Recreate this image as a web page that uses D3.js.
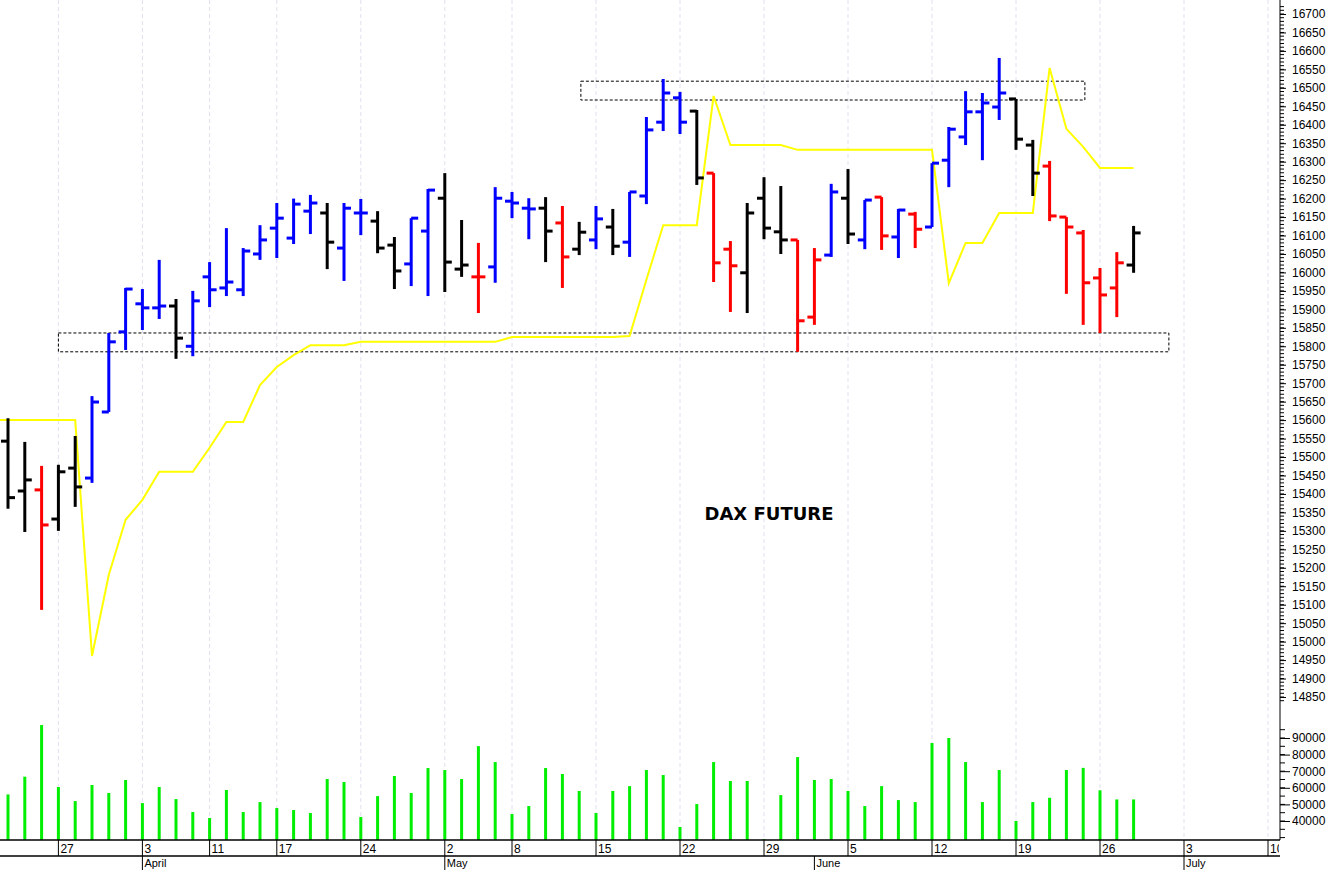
<!DOCTYPE html>
<html>
<head>
<meta charset="utf-8">
<script src="https://cdn.jsdelivr.net/npm/d3@7"></script>
<style>
  body { margin: 0; background: #fff; }
  svg { display: block; font-family: "Liberation Sans", Arial, sans-serif; }
</style>
</head>
<body>
<div id="container"></div>
<script>
const WIDTH = 1328;
const HEIGHT = 870;
const PLOT_RIGHT = 1280;
const BASE = 840;

// trading day index 0 = 22 March
const open = [15543,15408,15411,15332,15470,15443,15622,15839,15915,15904,15909,15800,15988,15958,15953,16050,16120,16093,16166,16161,
  16066,16161,16139,16074,16023,16112,16201,16009,15988,16015,16193,16174,16174,16134,16063,16088,16123,16082,16207,16407,
  16473,16437,16269,16063,15999,16201,16110,16088,15879,16047,16201,16088,16204,16096,16158,16123,16304,16367,16435,16448,
  16470,16345,16288,16150,16107,15985,15958,16020];
const high = [15605,15541,15476,15479,15557,15665,15836,15958,15955,16034,15928,15950,16028,16120,16066,16128,16188,16200,16210,16188,
  16188,16199,16166,16096,16147,16226,16269,16142,16080,16231,16218,16201,16204,16180,16137,16180,16172,16218,16421,16524,
  16489,16440,16269,16085,16188,16258,16234,16088,16066,16240,16280,16196,16204,16172,16164,16296,16394,16491,16486,16581,
  16470,16359,16302,16150,16115,16012,16055,16126];
const low = [15360,15297,15086,15300,15365,15430,15622,15790,15844,15874,15766,15773,15906,15936,15936,16034,16039,16077,16104,16009,
  15977,16101,16052,15955,15963,15936,15947,15988,15890,15972,16147,16090,16028,15958,16047,16063,16047,16042,16185,16383,
  16375,16237,15974,15893,15890,16090,16050,15785,15858,16042,16077,16063,16061,16039,16066,16123,16231,16345,16304,16413,
  16332,16207,16139,15942,15858,15836,15879,15999];
const close = [15390,15438,15316,15460,15419,15649,15812,15955,15904,15909,15822,15923,15953,15974,16058,16088,16147,16185,16188,16082,
  16174,16161,16066,16004,16147,16223,16028,16020,15988,16201,16188,16172,16112,16042,16109,16145,16071,16218,16386,16486,
  16407,16256,16026,16018,16161,16120,16088,15869,16034,16218,16104,16196,16099,16169,16117,16296,16388,16435,16459,16486,
  16361,16269,16153,16123,15972,15939,16026,16107];
// b = blue, k = black, r = red
const signal = "kkrkkbbbbbkbbbbbbbbkbbkkbbkkrbbbkrkbkbbbbkrrkkkrrbkbrbrbbbbbkkrrrrrk".split("");
const stopLine = [15600,15600,15600,15600,15600,14961,15181,15330,15384,15460,15460,15460,15525,15595,15595,15695,15744,15776,15803,15803,
  15803,15812,15812,15812,15812,15812,15812,15812,15812,15812,15825,15825,15825,15825,15825,15825,15825,15828,15980,16128,
  16128,16128,16478,16345,16345,16345,16345,16332,16332,16332,16332,16332,16332,16332,16332,16332,15971,16080,16080,16161,
  16161,16161,16554,16389,16340,16283,16283,16283];
const volume = [56000,66700,97800,60500,52000,61700,56900,64700,50800,60500,53200,45400,41800,58700,45400,51400,47800,46600,44800,65300,
  63500,42400,55000,67100,56900,71900,70700,65300,85100,75500,44200,49000,71900,68300,58100,44800,58100,61000,70700,67700,
  36400,50200,75500,64100,64100,29000,55600,78500,64700,65300,58100,49000,61000,52600,51400,87000,90000,75500,51400,70700,
  40000,51400,54000,70700,72000,58500,53000,53000];

const dayTicks = [3,8,12,16,21,26,30,35,40,45,50,55,60,65,70,75];
const dayLabels = ["27","3","11","17","24","2","8","15","22","29","5","12","19","26","3","10"];
const monthTicks = [8,26,48,70];
const monthLabels = ["April","May","June","July"];
const supportZone = [15785, 15836, 3, 69.1];
const resistZone = [16467, 16518, 34.1, 64.1];

const colors = { b: "#0000ff", k: "#000000", r: "#ff0000" };

const x = d3.scaleLinear().domain([0, 75]).range([8, 8 + 75 * 16.8]);
const y = d3.scaleLinear().domain([14850, 16700]).range([697, 14]);
const yv = d3.scaleLinear().domain([40000, 90000]).range([821, 738]);

const svg = d3.select("#container").append("svg")
  .attr("width", WIDTH).attr("height", HEIGHT);

svg.append("defs").append("clipPath").attr("id", "clip")
  .append("rect").attr("x", 0).attr("y", 0).attr("width", PLOT_RIGHT - 1).attr("height", HEIGHT);

// grid
svg.append("g").selectAll("line").data(dayTicks).join("line")
  .attr("x1", (d) => x(d)).attr("x2", (d) => x(d))
  .attr("y1", 0).attr("y2", BASE)
  .attr("stroke", "#e0e0f0").attr("stroke-dasharray", "4,3");

// zones
svg.append("g").selectAll("rect").data([supportZone, resistZone]).join("rect")
  .attr("x", (d) => x(d[2])).attr("width", (d) => x(d[3]) - x(d[2]))
  .attr("y", (d) => y(d[1])).attr("height", (d) => y(d[0]) - y(d[1]))
  .attr("fill", "none").attr("stroke", "#000").attr("stroke-dasharray", "3,2");

// volume
svg.append("g").selectAll("line").data(volume).join("line")
  .attr("x1", (d, i) => x(i)).attr("x2", (d, i) => x(i))
  .attr("y1", BASE).attr("y2", (d) => yv(d))
  .attr("stroke", "#00ee00").attr("stroke-width", 3);

// yellow line
svg.append("path").datum(stopLine)
  .attr("fill", "none").attr("stroke", "#ffff00").attr("stroke-width", 2)
  .attr("d", d3.line().x((d, i) => (i === 0 ? 0 : x(i))).y((d) => y(d)));

// OHLC bars
const bars = svg.append("g").selectAll("g").data(open).join("g")
  .attr("stroke", (d, i) => colors[signal[i]]).attr("stroke-width", 3);
bars.append("line")
  .attr("x1", (d, i) => x(i)).attr("x2", (d, i) => x(i))
  .attr("y1", (d, i) => y(high[i])).attr("y2", (d, i) => y(low[i]));
bars.append("line")
  .attr("x1", (d, i) => x(i) - 7).attr("x2", (d, i) => x(i))
  .attr("y1", (d) => y(d)).attr("y2", (d) => y(d));
bars.append("line")
  .attr("x1", (d, i) => x(i)).attr("x2", (d, i) => x(i) + 7)
  .attr("y1", (d, i) => y(close[i])).attr("y2", (d, i) => y(close[i]));

// title
svg.append("text").attr("x", 769).attr("y", 520).attr("text-anchor", "middle")
  .attr("font-size", 18).attr("font-weight", "bold")
  .attr("font-family", "DejaVu Sans, sans-serif").text("DAX FUTURE");

// right axes
const priceAxis = d3.axisRight(y).tickValues(d3.range(14850, 16701, 50))
  .tickSize(6).tickFormat(d3.format("d"));
svg.append("g").attr("transform", `translate(${PLOT_RIGHT},0)`).call(priceAxis)
  .call((g) => g.select(".domain").remove())
  .call((g) => g.selectAll("text").attr("font-size", 12).attr("x", 12).attr("fill", "#000"));
svg.append("g").selectAll("line").data(d3.range(14840, 16721, 10)).join("line")
  .attr("x1", PLOT_RIGHT).attr("x2", PLOT_RIGHT + 4)
  .attr("y1", (d) => y(d)).attr("y2", (d) => y(d)).attr("stroke", "#000");

const volAxis = d3.axisRight(yv).tickValues(d3.range(40000, 90001, 10000))
  .tickSize(10).tickFormat(d3.format("d"));
svg.append("g").attr("transform", `translate(${PLOT_RIGHT},0)`).call(volAxis)
  .call((g) => g.select(".domain").remove())
  .call((g) => g.selectAll("text").attr("font-size", 12).attr("x", 12).attr("fill", "#000"));
svg.append("g").selectAll("line").data(d3.range(30000, 95001, 5000)).join("line")
  .attr("x1", PLOT_RIGHT).attr("x2", PLOT_RIGHT + 5)
  .attr("y1", (d) => yv(d)).attr("y2", (d) => yv(d)).attr("stroke", "#000");

svg.append("line").attr("x1", PLOT_RIGHT).attr("x2", PLOT_RIGHT)
  .attr("y1", 0).attr("y2", BASE).attr("stroke", "#000");

// bottom axis
svg.append("line").attr("x1", 0).attr("x2", PLOT_RIGHT).attr("y1", BASE).attr("y2", BASE).attr("stroke", "#000").attr("stroke-width", 1.5);
svg.append("line").attr("x1", 0).attr("x2", PLOT_RIGHT).attr("y1", 856).attr("y2", 856).attr("stroke", "#000").attr("stroke-width", 1.5);
const dayG = svg.append("g").attr("clip-path", "url(#clip)");
dayG.selectAll("line").data(dayTicks).join("line")
  .attr("x1", (d) => x(d)).attr("x2", (d) => x(d)).attr("y1", BASE).attr("y2", 856).attr("stroke", "#000");
dayG.selectAll("text").data(dayTicks).join("text")
  .attr("x", (d) => x(d) + 2).attr("y", 853).attr("font-size", 12)
  .text((d, i) => dayLabels[i]);
const monG = svg.append("g");
monG.selectAll("line").data(monthTicks).join("line")
  .attr("x1", (d) => x(d)).attr("x2", (d) => x(d)).attr("y1", 856).attr("y2", 870).attr("stroke", "#000");
monG.selectAll("text").data(monthTicks).join("text")
  .attr("x", (d) => x(d) + 2).attr("y", 867).attr("font-size", 11)
  .text((d, i) => monthLabels[i]);
</script>
</body>
</html>
